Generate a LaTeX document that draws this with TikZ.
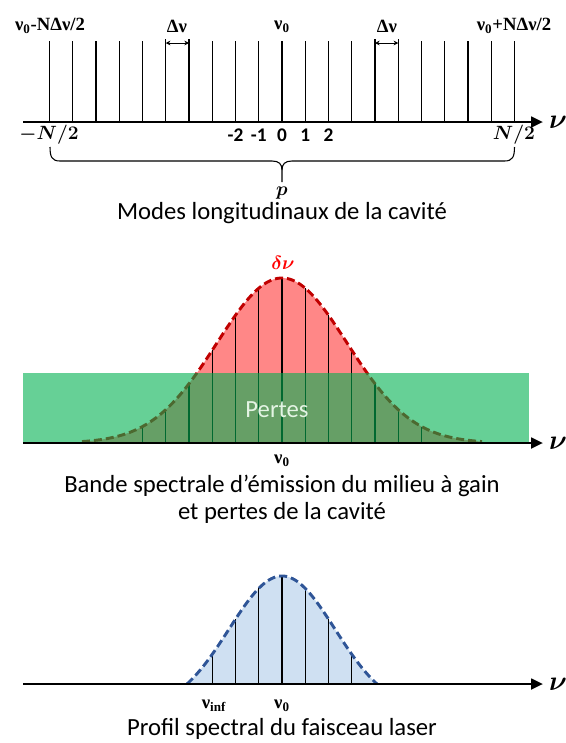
\documentclass[tikz,border=0pt]{standalone}
\usepackage{fontspec}
\setmainfont{Carlito}
\newfontfamily\labfont{Liberation Serif}
\usepackage{amsmath,bm}
\usetikzlibrary{arrows.meta}
\definecolor{redfill}{RGB}{255,135,135}
\definecolor{redline}{RGB}{192,0,0}
\definecolor{greenbox}{RGB}{0,176,80}
\definecolor{bluefill}{RGB}{207,224,242}
\definecolor{blueline}{RGB}{47,85,151}
\definecolor{pertestext}{RGB}{228,244,228}
\tikzset{
  axisarrow/.style={line width=2pt,-{Triangle[length=9pt,width=8pt]}},
  modeline/.style={line width=1pt},
  gapline/.style={line width=0.7pt,{Stealth[length=3.5pt,width=3.5pt]}-{Stealth[length=3.5pt,width=3.5pt]}},
  captext/.style={font=\fontsize{18.5}{22}\selectfont,inner sep=0pt},
  labtext/.style={font=\labfont\bfseries\fontsize{14}{16}\selectfont,inner sep=0pt},
  numtext/.style={font=\bfseries\fontsize{14.5}{16}\selectfont,inner sep=0pt},
  mathlab/.style={font=\fontsize{14}{16}\selectfont,inner sep=0pt},
  nulab/.style={font=\fontsize{20}{22}\selectfont,inner sep=0pt},
  dashcurve/.style={line width=2.2pt,dash pattern=on 6pt off 3pt},
}
\begin{document}
\begin{tikzpicture}[x=0.75pt,y=-0.75pt,line join=round]
\useasboundingbox (0,0) rectangle (565,743);

% ---------------- Panel 1 : longitudinal modes ----------------
\foreach \k in {-10,...,10}{
  \draw[modeline] ({282+23.25*(\k)},41) -- ({282+23.25*(\k)},122);
}
\coordinate (d1a) at (165.75,43);
\coordinate (d1b) at (189,43);
\coordinate (d2a) at (375,43);
\coordinate (d2b) at (398.25,43);
\draw[modeline] (165.75,39) -- (165.75,43) (189,39) -- (189,43)
                (375,39) -- (375,43) (398.25,39) -- (398.25,43);
\draw[gapline] (d1a) -- (d1b);
\draw[gapline] (d2a) -- (d2b);

\coordinate (a1s) at (23,122);
\coordinate (a1e) at (543,122);
\draw[axisarrow] (a1s) -- (a1e);
\node[nulab] (nu1) at (558,122) {$\bm{\nu}$};

\node[labtext] (l1) at (50,26) {ν\textsubscript{0}-NΔν/2};
\node[labtext] (l2) at (177,26) {Δν};
\node[labtext] (l3) at (282,27) {ν\textsubscript{0}};
\node[labtext] (l4) at (387,26) {Δν};
\node[labtext] (l5) at (514,26) {ν\textsubscript{0}+NΔν/2};

\node[mathlab] (mN) at (49,135) {$\bm{-N/2}$};
\node[mathlab] (pN) at (514,135) {$\bm{N/2}$};
\node[numtext] (n1) at (235.5,135) {-2};
\node[numtext] (n2) at (258.75,135) {-1};
\node[numtext] (n3) at (282,135) {0};
\node[numtext] (n4) at (305.25,135) {1};
\node[numtext] (n5) at (328.5,135) {2};

% brace
\coordinate (bl) at (50,147);
\coordinate (br) at (514.5,147);
\coordinate (bt) at (282,182);
\draw[line width=0.8pt] (bl) .. controls (50,157) and (52,161) .. (60,161)
   -- (272,161) .. controls (279,161) and (282,164) .. (282,170) -- (bt);
\draw[line width=0.8pt] (br) .. controls (514.5,157) and (512.5,161) .. (504.5,161)
   -- (292,161) .. controls (285,161) and (282,164) .. (282,170);
\node[mathlab] (p) at (282,193) {$\bm{p}$};
\node[captext] (c1) at (282,213) {Modes longitudinaux de la cavité};

% ---------------- Panel 2 : gain band and losses ----------------
\fill[redfill] (82,443) -- plot[domain=-200:200,samples=120,smooth]
   ({282+\x},{443-165*exp(-(\x/65)*(\x/65)/2)}) -- (482,443) -- cycle;
\foreach \k in {-6,...,6}{
  \draw[modeline] ({282+23.25*(\k)},443) --
     ({282+23.25*(\k)},{443-165*exp(-(23.25*(\k)/65)*(23.25*(\k)/65)/2)});
}
\draw[redline,dashcurve] plot[domain=-200:200,samples=120,smooth]
   ({282+\x},{443-165*exp(-(\x/65)*(\x/65)/2)});
\fill[greenbox,fill opacity=0.6] (23,373) rectangle (529,443);
\node[captext,text=pertestext] (pertes) at (277,410) {Pertes};
\node[font=\fontsize{15}{17}\selectfont,text=red,inner sep=0pt] (dnu) at (283,263) {$\bm{\delta\nu}$};

\coordinate (a2s) at (23,443);
\coordinate (a2e) at (543,443);
\draw[axisarrow] (a2s) -- (a2e);
\node[nulab] (nu2) at (558,443) {$\bm{\nu}$};
\node[labtext] (l6) at (282,461) {ν\textsubscript{0}};
\node[captext] (c2) at (282,486) {Bande spectrale d’émission du milieu à gain};
\node[captext] (c3) at (282,513) {et pertes de la cavité};

% ---------------- Panel 3 : laser spectrum ----------------
\fill[bluefill] plot[domain=-95:95,samples=80,smooth]
   ({282+\x},{684-108*(exp(-(\x/53)*(\x/53)/2)-0.2006)/0.7994}) -- cycle;
\foreach \k in {-3,...,3}{
  \draw[modeline] ({282+23.25*(\k)},684) --
     ({282+23.25*(\k)},{684-108*(exp(-(23.25*(\k)/53)*(23.25*(\k)/53)/2)-0.2006)/0.7994});
}
\draw[blueline,dashcurve] plot[domain=-95:95,samples=80,smooth]
   ({282+\x},{684-108*(exp(-(\x/53)*(\x/53)/2)-0.2006)/0.7994});
\coordinate (a3s) at (23,684);
\coordinate (a3e) at (543,684);
\draw[axisarrow] (a3s) -- (a3e);
\node[nulab] (nu3) at (558,684) {$\bm{\nu}$};
\node[labtext] (l7) at (214,706) {ν\textsubscript{inf}};
\node[labtext] (l8) at (282,706) {ν\textsubscript{0}};
\node[captext] (c4) at (282,729) {Profil spectral du faisceau laser};
\end{tikzpicture}
\end{document}
